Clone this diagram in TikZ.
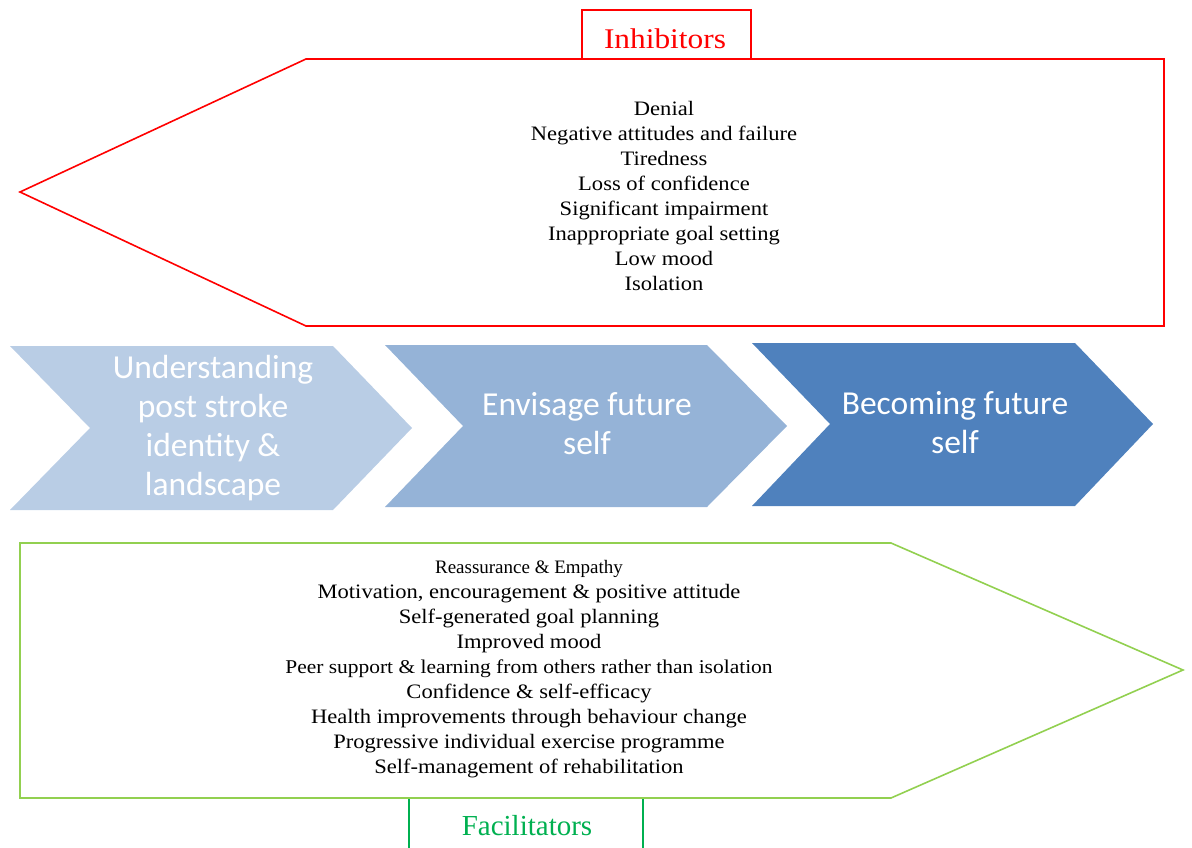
\documentclass[tikz,border=0pt]{standalone}
\usepackage{fontspec}
\setmainfont{Liberation Serif}
\newfontfamily\camb[FakeStretch=1.1]{Liberation Serif}
\newfontfamily\calib{Carlito}
\definecolor{inhred}{HTML}{FF0000}
\definecolor{facline}{HTML}{92D050}
\definecolor{facbox}{HTML}{00B050}
\definecolor{cA}{HTML}{B9CDE5}
\definecolor{cB}{HTML}{95B3D7}
\definecolor{cC}{HTML}{4F81BD}
\tikzset{
  listtext/.style={align=center,font=\camb\fontsize{20.5}{25}\selectfont,inner sep=0pt},
  chevtext/.style={align=center,text=white,font=\calib\fontsize{33.5}{39}\selectfont,inner sep=0pt},
}
\begin{document}
\begin{tikzpicture}[x=1pt,y=-1pt]
\useasboundingbox (0,0) rectangle (1192,848);
% inhibitors
\draw[inhred,line width=1.6pt,fill=white] (582,59) -- (582,10) -- (751,10) -- (751,59);
\node[text=inhred,font=\camb\fontsize{28.5}{32}\selectfont] (inhlab) at (665,39) {Inhibitors};
\draw[inhred,line width=1.6pt] (306,59) -- (1164,59) -- (1164,326) -- (306,326) -- (20,192) -- cycle;
\node[listtext,anchor=center] (inhlist) at (664,196) {Denial\\Negative attitudes and failure\\Tiredness\\Loss of confidence\\Significant impairment\\Inappropriate goal setting\\Low mood\\Isolation};
% chevrons
\fill[cA] (10,346) -- (333,346) -- (412,428) -- (333,510) -- (10,510) -- (90,428) -- cycle;
\fill[cB] (385,345) -- (707,345) -- (787,426) -- (707,507) -- (385,507) -- (463,426) -- cycle;
\fill[cC] (752,343) -- (1075,343) -- (1153,424) -- (1075,506) -- (752,506) -- (830,424) -- cycle;
\node[chevtext] (c1) at (213,428) {Understanding\\post stroke\\identity \&\\landscape};
\node[chevtext] (c2) at (587,424) {Envisage future\\self};
\node[chevtext] (c3) at (955,423) {Becoming future\\self};
% facilitators
\draw[facline,line width=1.6pt] (20,543) -- (891,543) -- (1183,670) -- (891,798) -- (20,798) -- cycle;
\node[listtext] (faclist) at (529,669) {{\rmfamily\fontsize{19}{25}\selectfont Reassurance \& Empathy}\\Motivation, encouragement \& positive attitude\\Self-generated goal planning\\Improved mood\\{\fontsize{19.5}{25}\selectfont Peer support \& learning from others rather than isolation}\\Confidence \& self-efficacy\\Health improvements through behaviour change\\Progressive individual exercise programme\\Self-management of rehabilitation};
\draw[facbox,line width=1.6pt] (409,799) -- (409,848);
\draw[facbox,line width=1.6pt] (643,799) -- (643,848);
\node[text=facbox,font=\fontsize{29}{32}\selectfont] (faclab) at (527,826) {Facilitators};
\end{tikzpicture}
\end{document}
